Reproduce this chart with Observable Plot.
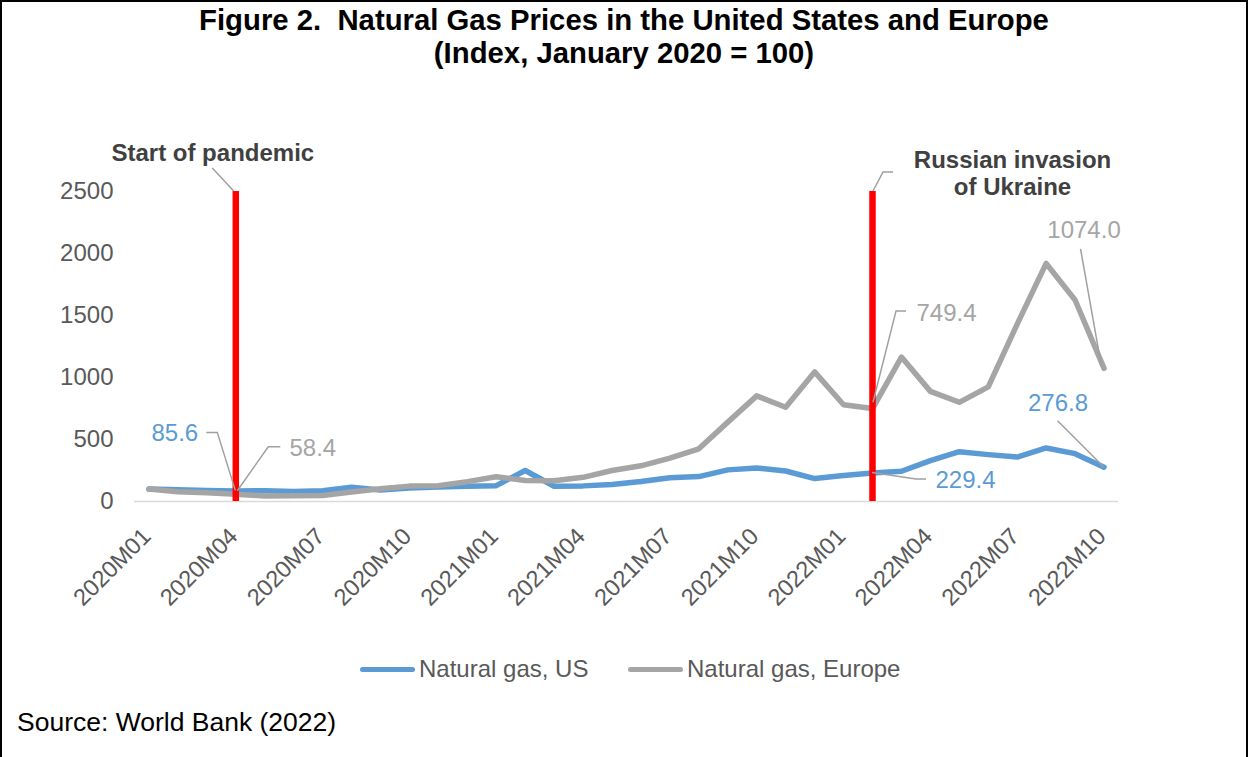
<!DOCTYPE html>
<html><head><meta charset="utf-8">
<script src="https://cdn.jsdelivr.net/npm/d3@7"></script>
<script src="https://cdn.jsdelivr.net/npm/@observablehq/plot@0.6"></script>
<style>
body{margin:0;background:#fff;font-family:Arial,"Liberation Sans",sans-serif;}
#frame{position:relative;width:1248px;height:757px;overflow:hidden;background:#fff;}
#border{position:absolute;left:0;top:0;right:0;bottom:-4px;border:2px solid #000;pointer-events:none;z-index:5;}
#title{position:absolute;left:0;top:3px;width:100%;text-align:center;font-weight:bold;font-size:29.3px;line-height:33px;color:#000;}
#chart{position:absolute;left:0;top:80px;}
.item{position:absolute;top:655px;height:28px;display:flex;align-items:center;font-size:24px;color:#595959;white-space:nowrap;}
.sw{width:55px;height:5px;border-radius:3px;margin-right:4px;}
#source{position:absolute;left:17px;top:707px;font-size:26.5px;color:#000;white-space:nowrap;}
</style></head>
<body>
<div id="frame">
  <div id="title">Figure 2.&nbsp; Natural Gas Prices in the United States and Europe<br>(Index, January 2020 = 100)</div>
  <div id="chart"></div>
  <div class="item" style="left:360px"><span class="sw" style="background:#5B9BD5"></span>Natural gas, US</div>
  <div class="item" style="left:628px"><span class="sw" style="background:#A5A5A5"></span>Natural gas, Europe</div>
  <div id="source">Source: World Bank (2022)</div>
  <div id="border"></div>
</div>
<script>
// ---- data ----
const months = ["2020M01","2020M02","2020M03","2020M04","2020M05","2020M06","2020M07","2020M08","2020M09","2020M10","2020M11","2020M12",
  "2021M01","2021M02","2021M03","2021M04","2021M05","2021M06","2021M07","2021M08","2021M09","2021M10","2021M11","2021M12",
  "2022M01","2022M02","2022M03","2022M04","2022M05","2022M06","2022M07","2022M08","2022M09","2022M10"];
const usIndex = [100, 94, 88, 85.6, 86, 80, 87, 115, 92, 108, 116, 122,
  128, 250, 123, 126, 137, 161, 191, 201, 255, 271, 246, 185,
  210, 229.4, 244, 330, 402, 378, 358, 432, 386, 276.8];
const europeIndex = [100, 78, 70, 58.4, 45, 47, 48, 77, 102, 124, 128, 160,
  200, 170, 168, 195, 250, 288, 350, 425, 640, 852, 760, 1045,
  780, 749.4, 1165, 888, 800, 925, 1430, 1920, 1625, 1074.0];
const seriesNames = ["Natural gas, US", "Natural gas, Europe"];
const seriesColors = ["#5B9BD5", "#A5A5A5"];
const xTickLabels = ["2020M01","2020M04","2020M07","2020M10","2021M01","2021M04","2021M07","2021M10","2022M01","2022M04","2022M07","2022M10"];
const yTicks = [0, 500, 1000, 1500, 2000, 2500];
const eventMonths = ["2020M04", "2022M02"];
const eventTexts = ["Start of pandemic", "Russian invasion\nof Ukraine"];
const eventTop = 2500;
// data labels: which series, month, value shown
const labelSeries = ["Natural gas, US", "Natural gas, Europe", "Natural gas, Europe", "Natural gas, US", "Natural gas, US", "Natural gas, Europe"];
const labelMonths = ["2020M04", "2020M04", "2022M02", "2022M02", "2022M10", "2022M10"];
const labelValues = [85.6, 58.4, 749.4, 229.4, 276.8, 1074.0];
const labelTexts = ["85.6", "58.4", "749.4", "229.4", "276.8", "1074.0"];

// ---- layout of labels (pixel offsets from the data point) ----
const labelOffsets = [[-61,-58],[77,-46],[74,-95],[93,7],[-46,-64],[-20,-138]];
const labelLeaders = [
  [[0,0],[-18,-58],[-29,-58]],
  [[2,-3],[33,-47],[45,-47]],
  [[1,-6],[24,-97],[34,-97]],
  [[0,0],[44,6.5],[54,6.5]],
  [[0,0],[-46,-46]],
  [[-2,-1],[-23,-119]]
];
const eventOffsets = [[-23,-39],[140,-18.5]];
const eventLeaders = [[[-1.6,0],[-23,-23]], [[1,0],[11,-19],[21,-19]]];

const rows = months.flatMap((m, i) => [
  {month: m, series: seriesNames[0], value: usIndex[i]},
  {month: m, series: seriesNames[1], value: europeIndex[i]}
]);
const colorOf = s => seriesColors[seriesNames.indexOf(s)];

const marks = [
  Plot.ruleY([0], {stroke: "#d9d9d9", strokeWidth: 1.5}),
  Plot.axisY(yTicks, {tickSize: 0, tickPadding: 21, fontSize: 24, fill: "#595959", label: null, tickFormat: d => String(d)}),
  Plot.axisX(xTickLabels, {tickSize: 0, tickPadding: 31, tickRotate: -45, fontSize: 23.5, fill: "#595959", dx: -2, label: null}),
  ...seriesNames.map(s => Plot.line(rows.filter(d => d.series === s), {
    x: "month", y: "value", stroke: colorOf(s), strokeWidth: 5.5, strokeLinejoin: "round", strokeLinecap: "round"
  })),
  Plot.ruleX(eventMonths, {x: d => d, y1: 0, y2: eventTop, stroke: "#ff0000", strokeWidth: 6.5}),
  ...eventMonths.map((m, i) => Plot.text([m], {
    x: d => d, y: () => eventTop, text: () => eventTexts[i], dx: eventOffsets[i][0], dy: eventOffsets[i][1],
    fontSize: 24, fontWeight: "bold", fill: "#404040", lineHeight: 1.13, lineAnchor: "middle", textAnchor: "middle"
  })),
  ...labelTexts.map((t, i) => Plot.text([i], {
    x: () => labelMonths[i], y: () => labelValues[i], text: () => t,
    dx: labelOffsets[i][0], dy: labelOffsets[i][1], fontSize: 24, fill: colorOf(labelSeries[i]),
    textAnchor: "middle", lineAnchor: "middle"
  }))
];

const chart = Plot.plot({
  width: 1248, height: 560,
  marginLeft: 134, marginRight: 130, marginTop: 111, marginBottom: 139,
  style: {fontFamily: "Arial, 'Liberation Sans', sans-serif", background: "transparent", overflow: "visible"},
  x: {type: "point", domain: months, padding: 0.5},
  y: {domain: [0, 2500]},
  marks
});
document.getElementById("chart").appendChild(chart);

// leader lines, placed through the plot's own scales
const sx = chart.scale("x"), sy = chart.scale("y");
const g = d3.select(chart).append("g").attr("fill", "none").attr("stroke", "#a0a0a0").attr("stroke-width", 1.5);
const line = d3.line();
labelLeaders.forEach((pts, i) => {
  const x0 = sx.apply(labelMonths[i]), y0 = sy.apply(labelValues[i]);
  g.append("path").attr("d", line(pts.map(([dx, dy]) => [x0 + dx, y0 + dy])));
});
eventLeaders.forEach((pts, i) => {
  const x0 = sx.apply(eventMonths[i]), y0 = sy.apply(eventTop);
  g.append("path").attr("d", line(pts.map(([dx, dy]) => [x0 + dx, y0 + dy])));
});
</script>
</body></html>
